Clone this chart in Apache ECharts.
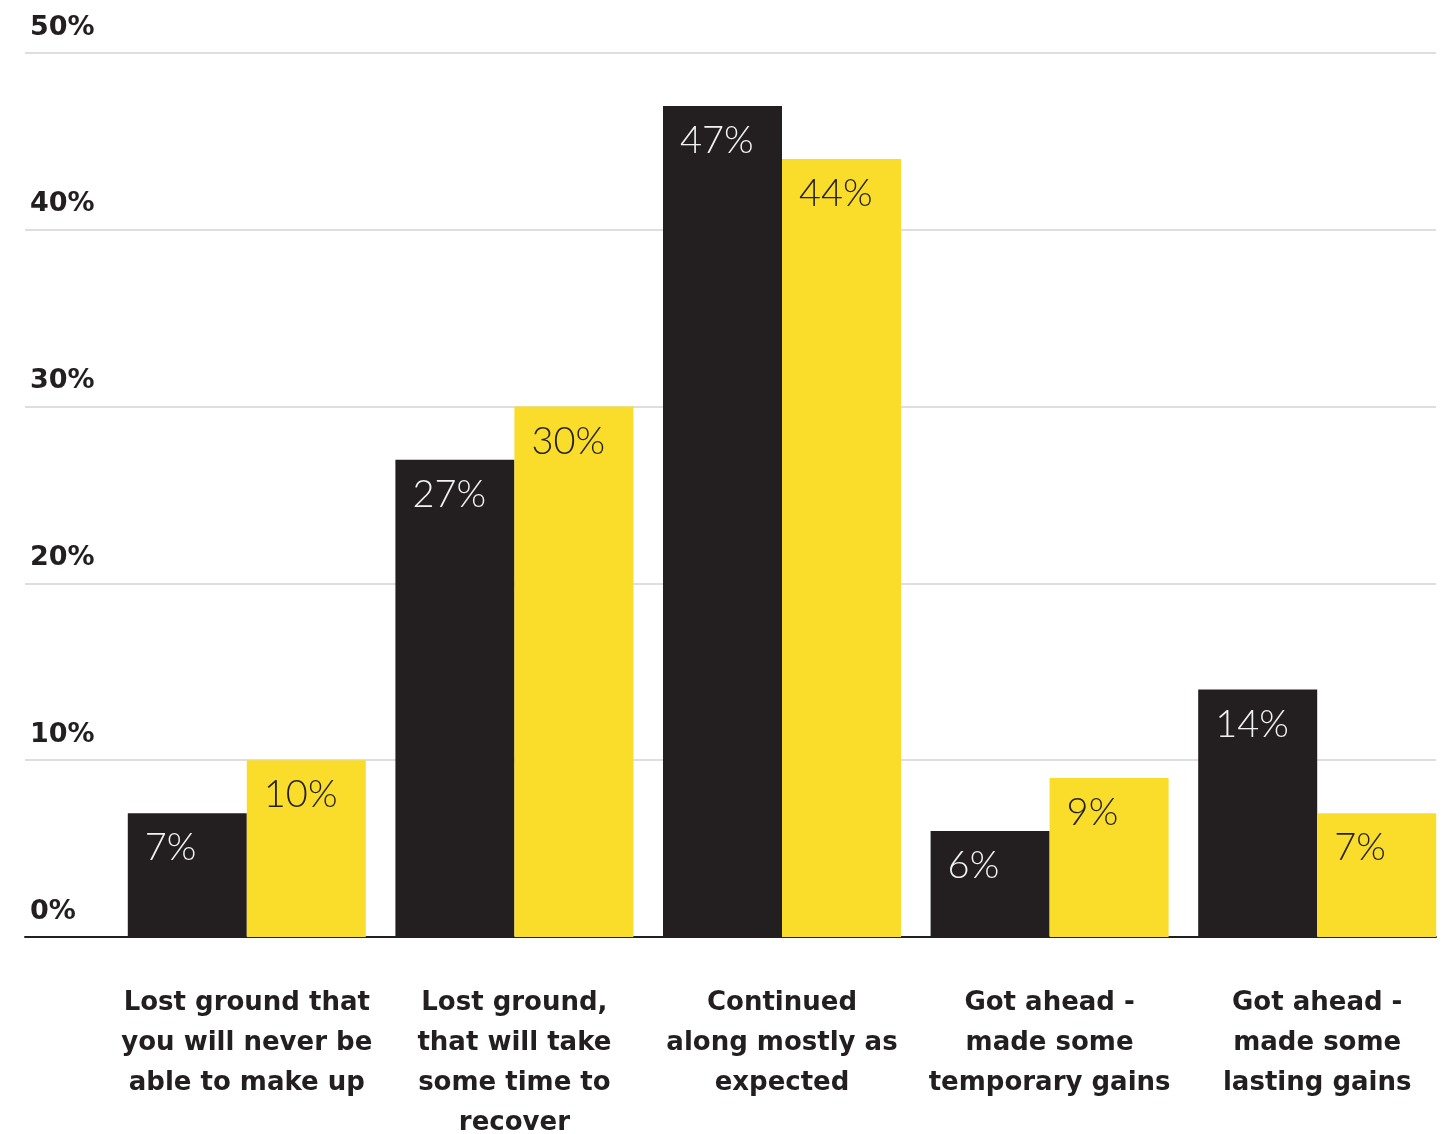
<!DOCTYPE html>
<html>
<head>
<meta charset="utf-8">
<script src="https://cdn.jsdelivr.net/npm/echarts@6/dist/echarts.min.js"></script>
<style>
html,body{margin:0;padding:0;background:#fff;}
#chart{width:1455px;height:1134px;}
</style>
</head>
<body>
<div id="chart"></div>
<script>
const categories = [
  "Lost ground that\nyou will never be\nable to make up",
  "Lost ground,\nthat will take\nsome time to\nrecover",
  "Continued\nalong mostly as\nexpected",
  "Got ahead -\nmade some\ntemporary gains",
  "Got ahead -\nmade some\nlasting gains"
];
const seriesBlack = [7, 27, 47, 6, 14];
const seriesYellow = [10, 30, 44, 9, 7];
const yTicks = [0, 10, 20, 30, 40, 50];

const BLACK = '#231F20';
const YELLOW = '#F9DD2A';
const labelFont = 'DejaVu Sans';

const chart = echarts.init(document.getElementById('chart'), null, {renderer: 'canvas'});

function valueLabel(color) {
  return {
    show: true,
    position: [17, 16],
    align: 'left',
    verticalAlign: 'top',
    fontFamily: 'Lato',
    fontWeight: 300,
    fontSize: 38,
    color: color,
    formatter: p => p.value + '%'
  };
}

chart.setOption({
  animation: false,
  backgroundColor: '#ffffff',
  grid: [
    {left: 113, right: 4, top: 53, bottom: 197, containLabel: false, outerBoundsMode: 'none'},
    {left: 25, right: 19, top: 53, bottom: 197, containLabel: false, outerBoundsMode: 'none'}
  ],
  xAxis: [
    {
      type: 'category', gridIndex: 0, data: categories,
      axisLine: {show: false}, axisTick: {show: false},
      axisLabel: {
        interval: 0, margin: 46, color: BLACK,
        fontFamily: labelFont, fontWeight: 'bold', fontSize: 26, lineHeight: 40,
        align: 'center'
      }
    },
    {
      type: 'value', gridIndex: 1, min: 0, max: 1,
      axisLabel: {show: false}, splitLine: {show: false}, axisTick: {show: false},
      axisLine: {show: true, lineStyle: {color: BLACK, width: 2}}
    }
  ],
  yAxis: [
    {
      type: 'value', gridIndex: 0, min: yTicks[0], max: yTicks[yTicks.length - 1], interval: 10,
      show: false, splitLine: {show: false}
    },
    {
      type: 'value', gridIndex: 1, min: yTicks[0], max: yTicks[yTicks.length - 1], interval: 10,
      axisLine: {show: false}, axisTick: {show: false},
      splitLine: {show: true, lineStyle: {color: '#dedede', width: 2}},
      axisLabel: {
        inside: true, margin: 5, color: BLACK,
        fontFamily: labelFont, fontWeight: 'bold', fontSize: 27,
        verticalAlign: 'bottom', padding: [0, 0, 12, 0],
        formatter: v => v + '%'
      }
    }
  ],
  series: [
    {
      type: 'bar', xAxisIndex: 0, yAxisIndex: 0, data: seriesBlack,
      barWidth: 119, barGap: '0%', itemStyle: {color: BLACK}, z: 5,
      label: valueLabel('#f2f2f2')
    },
    {
      type: 'bar', xAxisIndex: 0, yAxisIndex: 0, data: seriesYellow,
      barWidth: 119, barGap: '0%', itemStyle: {color: YELLOW}, z: 5,
      label: valueLabel(BLACK)
    }
  ]
});
</script>
</body>
</html>
